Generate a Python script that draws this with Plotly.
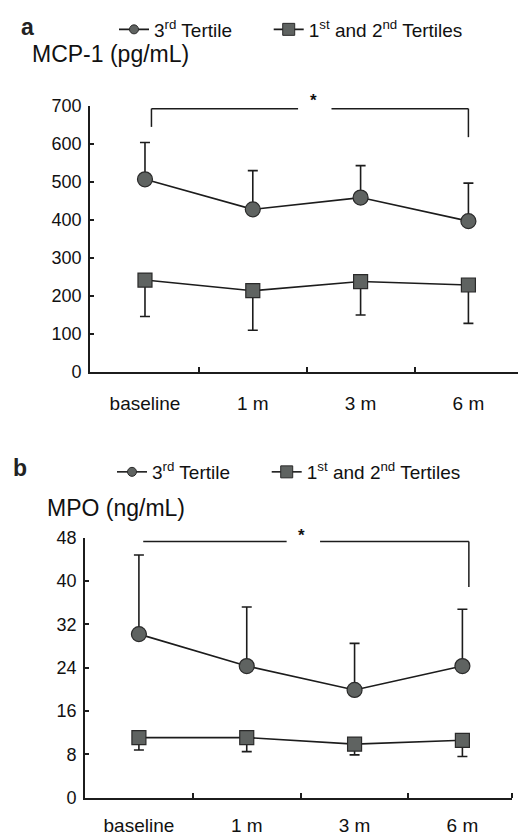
import plotly.graph_objects as go

W, H = 518, 837

categories = ["baseline", "1 m", "3 m", "6 m"]
x_idx = [0, 1, 2, 3]

# Panel a: MCP-1 (pg/mL)
mcp_t3 = [507, 428, 459, 397]
mcp_t3_err = [97, 102, 84, 100]
mcp_t12 = [242, 214, 238, 229]
mcp_t12_err = [96, 104, 88, 101]
mcp_ticks = [0, 100, 200, 300, 400, 500, 600, 700]

# Panel b: MPO (ng/mL)
mpo_t3 = [30.2, 24.3, 19.9, 24.3]
mpo_t3_err = [14.6, 10.9, 8.6, 10.5]
mpo_t12 = [11.1, 11.1, 9.9, 10.6]
mpo_t12_err = [2.3, 2.6, 2.0, 3.0]
mpo_ticks = [0, 8, 16, 24, 32, 40, 48]

name_t3 = "3<sup>rd</sup> Tertile" + "&nbsp;" * 6
name_t12 = "1<sup>st</sup> and 2<sup>nd</sup> Tertiles"

FONT = "Liberation Sans, Arial, Helvetica, sans-serif"
LINE = "#1c1c1c"
FILL = "#5f6361"

fig = go.Figure()


def add_panel(xa, ya, t3, t3e, t12, t12e, legend):
    fig.add_trace(go.Scatter(
        x=x_idx, y=t3, mode="lines+markers", xaxis=xa, yaxis=ya,
        line=dict(color=LINE, width=1.6),
        marker=dict(symbol="circle", size=15, color=FILL, line=dict(color="#2a2a2a", width=1.2)),
        error_y=dict(type="data", symmetric=False, array=t3e, arrayminus=[0] * len(t3e),
                     color=LINE, thickness=1.6, width=5),
        showlegend=False, cliponaxis=False))
    fig.add_trace(go.Scatter(
        x=x_idx, y=t12, mode="lines+markers", xaxis=xa, yaxis=ya,
        line=dict(color=LINE, width=1.6),
        marker=dict(symbol="square", size=14, color=FILL, line=dict(color="#2a2a2a", width=1.2)),
        error_y=dict(type="data", symmetric=False, array=[0] * len(t12e), arrayminus=t12e,
                     color=LINE, thickness=1.6, width=5),
        showlegend=False, cliponaxis=False))
    # legend entries
    fig.add_trace(go.Scatter(
        x=[None], y=[None], mode="lines+markers", xaxis=xa, yaxis=ya, name=name_t3,
        line=dict(color=LINE, width=1.6),
        marker=dict(symbol="circle", size=9, color=FILL, line=dict(color="#2a2a2a", width=1)),
        legend=legend))
    fig.add_trace(go.Scatter(
        x=[None], y=[None], mode="lines+markers", xaxis=xa, yaxis=ya, name=name_t12,
        line=dict(color=LINE, width=1.6),
        marker=dict(symbol="square", size=12, color=FILL, line=dict(color="#2a2a2a", width=1)),
        legend=legend))


add_panel("x", "y", mcp_t3, mcp_t3_err, mcp_t12, mcp_t12_err, "legend")
add_panel("x2", "y2", mpo_t3, mpo_t3_err, mpo_t12, mpo_t12_err, "legend2")

tickfont = dict(family=FONT, size=18, color="#111")
catfont = dict(family=FONT, size=19, color="#111")


def xaxis(domain, rng, minor_vals, standoff):
    return dict(domain=domain, range=rng, tickmode="array", tickvals=x_idx, ticktext=categories,
                ticks="", tickfont=catfont, ticklabelstandoff=standoff,
                showline=True, linecolor=LINE, linewidth=1.6, showgrid=False, zeroline=False,
                minor=dict(tickmode="array", tickvals=minor_vals, ticks="inside", ticklen=5,
                           tickwidth=1.5, tickcolor=LINE, showgrid=False),
                fixedrange=True)


def yaxis(domain, rng, ticks, anchor):
    return dict(domain=domain, range=rng, tickmode="array", tickvals=ticks,
                ticks="inside", ticklen=4, tickwidth=1.5, tickcolor=LINE, tickfont=tickfont,
                ticklabelstandoff=3, showline=True, linecolor=LINE, linewidth=1.6,
                showgrid=False, zeroline=False, anchor=anchor, fixedrange=True)


legend_common = dict(orientation="h", xanchor="left", yanchor="middle",
                     font=dict(family=FONT, size=19, color="#111"), bgcolor="rgba(0,0,0,0)",
                     tracegroupgap=0)

fig.update_layout(
    width=W, height=H, margin=dict(l=0, r=0, t=0, b=0, autoexpand=False),
    paper_bgcolor="white", plot_bgcolor="white",
    font=dict(family=FONT, color="#111"),
    xaxis=xaxis([90 / W, 1.0], [-0.51, 3.46], [0.5, 1.5, 2.5], 13),
    yaxis=yaxis([1 - 372 / H, 1 - 106 / H], [0, 700], mcp_ticks, "x"),
    xaxis2=dict(xaxis([85 / W, 512 / W], [-0.5, 3.46], [0.5, 1.5, 2.5, 3.46], 10), anchor="y2"),
    yaxis2=yaxis([1 - 797.7 / H, 1 - 537.7 / H], [0, 48], mpo_ticks, "x2"),
    legend=dict(legend_common, x=114 / W, y=1 - 29.5 / H),
    legend2=dict(legend_common, x=112 / W, y=1 - 472 / H),
)

# Significance brackets (category positions and levels)
brackets = [
    dict(xr="x", yr="y", x0=0.06, x1=3.0, y=693, y0_left=645, y0_right=618,
         gap0=1.42, gap1=1.73, star=1.56, show_left=True, shift=8),
    dict(xr="x2", yr="y2", x0=0.04, x1=3.06, y=47.3, y0_left=None, y0_right=38.9,
         gap0=1.37, gap1=1.68, star=1.51, show_left=False, shift=6),
]
for b in brackets:
    ls = dict(color=LINE, width=1.5)
    fig.add_shape(type="line", xref=b["xr"], yref=b["yr"], x0=b["x0"], x1=b["gap0"],
                  y0=b["y"], y1=b["y"], line=ls)
    fig.add_shape(type="line", xref=b["xr"], yref=b["yr"], x0=b["gap1"], x1=b["x1"],
                  y0=b["y"], y1=b["y"], line=ls)
    if b["show_left"]:
        fig.add_shape(type="line", xref=b["xr"], yref=b["yr"], x0=b["x0"], x1=b["x0"],
                      y0=b["y"], y1=b["y0_left"], line=ls)
    fig.add_shape(type="line", xref=b["xr"], yref=b["yr"], x0=b["x1"], x1=b["x1"],
                  y0=b["y"], y1=b["y0_right"], line=ls)
    fig.add_annotation(xref=b["xr"], yref=b["yr"], x=b["star"], y=b["y"], text="<b>*</b>",
                       showarrow=False, yanchor="middle", yshift=b["shift"],
                       font=dict(family=FONT, size=17, color="#111"))

# Panel letters and axis titles
fig.add_annotation(xref="paper", yref="paper", x=19 / W, y=1 - 27 / H, text="<b>a</b>",
                   showarrow=False, xanchor="left", yanchor="middle",
                   font=dict(family=FONT, size=23, color="#222"))
fig.add_annotation(xref="paper", yref="paper", x=11 / W, y=1 - 468 / H, text="<b>b</b>",
                   showarrow=False, xanchor="left", yanchor="middle",
                   font=dict(family=FONT, size=23, color="#222"))
fig.add_annotation(xref="paper", yref="paper", x=30 / W, y=1 - 54 / H, text="MCP-1 (pg/mL)",
                   showarrow=False, xanchor="left", yanchor="middle",
                   font=dict(family=FONT, size=23, color="#111"))
fig.add_annotation(xref="paper", yref="paper", x=45 / W, y=1 - 508 / H, text="MPO (ng/mL)",
                   showarrow=False, xanchor="left", yanchor="middle",
                   font=dict(family=FONT, size=23, color="#111"))

fig.write_html("out.html")
